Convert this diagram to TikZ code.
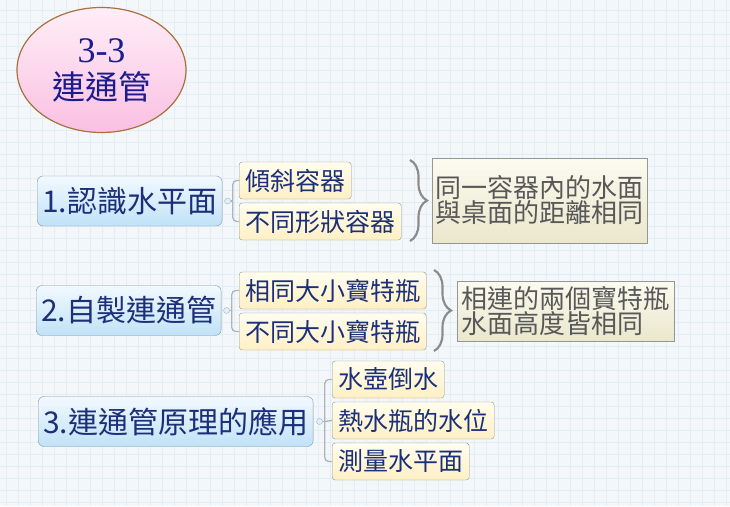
\documentclass[tikz,border=0pt]{standalone}
\usepackage{fontspec}
\newfontfamily\cjk{Noto Sans CJK TC}
\newfontfamily\numfont{Liberation Serif}
\usepackage{tikz}
\usetikzlibrary{shapes.geometric,positioning,decorations.pathreplacing}

\definecolor{paper}{RGB}{244,247,249}
\definecolor{gridblue}{RGB}{226,238,246}
\definecolor{titleline}{RGB}{170,112,62}
\definecolor{titletop}{RGB}{255,238,247}
\definecolor{titlebot}{RGB}{249,192,226}
\definecolor{titleblue}{RGB}{28,28,140}
\definecolor{topicline}{RGB}{132,150,166}
\definecolor{topictop}{RGB}{242,249,255}
\definecolor{topicbot}{RGB}{192,226,247}
\definecolor{topicblue}{RGB}{28,48,122}
\definecolor{leafline}{RGB}{150,150,150}
\definecolor{leaftop}{RGB}{255,253,238}
\definecolor{leafbot}{RGB}{255,240,196}
\definecolor{notetop}{RGB}{251,251,240}
\definecolor{notebot}{RGB}{234,231,204}
\definecolor{notegray}{RGB}{88,88,88}
\definecolor{branchgray}{RGB}{172,180,190}

\begin{document}
\begin{tikzpicture}[x=1pt,y=-1pt,
  title/.style={ellipse,draw=titleline,line width=1.2pt,top color=titletop,bottom color=titlebot,
    minimum width=169pt,minimum height=125pt,inner sep=0pt,align=center,text=titleblue,
    font=\cjk\fontsize{33}{37}\selectfont},
  topic/.style={draw=topicline,rounded corners=6pt,top color=topictop,bottom color=topicbot,
    text=topicblue,font=\cjk\fontsize{30}{32}\selectfont,minimum height=50pt,inner xsep=5pt,anchor=west},
  leaf/.style={draw=leafline,rounded corners=3pt,top color=leaftop,bottom color=leafbot,
    text=topicblue,font=\cjk\fontsize{25}{27}\selectfont,minimum height=37pt,inner xsep=6pt,anchor=west},
  note/.style={draw=leafline,top color=notetop,bottom color=notebot,text=notegray,align=left,
    font=\cjk\fontsize{26}{25}\selectfont,inner xsep=3pt},
  dot/.style={circle,inner sep=0pt,minimum size=6pt,fill=topictop!60!topicbot,draw=branchgray},
  branch/.style={draw=branchgray,line width=1.3pt,rounded corners=4pt},
  curly/.style={decorate,decoration={brace,amplitude=17pt},draw=gray!90,line width=2.2pt}]
  % Paper with grid
  \useasboundingbox (0,0) rectangle (730,506);
  \fill[paper] (0,0) rectangle (730,506);
  \foreach \gx in {6,18,...,726} \draw[gridblue,line width=0.6pt] (\gx,0) -- (\gx,506);
  \foreach \gy in {10,22,...,502} \draw[gridblue,line width=0.6pt] (0,\gy) -- (730,\gy);
  % Central topic
  \node[title] (title) at (101.5,70) {{\numfont\fontsize{36}{37}\selectfont 3-3}\\連通管};
  % Topic 1
  \node[topic] (t1) at (37,201) {1.認識水平面};
  \node[dot,right=2pt of t1] (d1) {};
  \node[leaf] (l11) at (239,180.5) {傾斜容器};
  \node[leaf] (l12) at (239,221.5) {不同形狀容器};
  \draw[branch] (d1.east) -- ++(2,0) coordinate (j1);
  \draw[branch] (j1) |- (l11.west);
  \draw[branch] (j1) |- (l12.west);
  \draw[curly] (410,160) -- (410,241);
  \node[note,minimum width=215pt,minimum height=85pt] (n1) at (539.5,200.5) {同一容器內的水面\\與桌面的距離相同};
  % Topic 2
  \node[topic] (t2) at (36,310.5) {2.自製連通管};
  \node[dot,right=2pt of t2] (d2) {};
  \node[leaf] (l21) at (239,290.5) {相同大小寶特瓶};
  \node[leaf] (l22) at (239,331.5) {不同大小寶特瓶};
  \draw[branch] (d2.east) -- ++(2,0) coordinate (j2);
  \draw[branch] (j2) |- (l21.west);
  \draw[branch] (j2) |- (l22.west);
  \draw[curly] (434,270) -- (434,351);
  \node[note,minimum width=217pt,minimum height=60pt] (n2) at (565.5,311) {相連的兩個寶特瓶\\水面高度皆相同};
  % Topic 3
  \node[topic] (t3) at (38,421.5) {3.連通管原理的應用};
  \node[dot,right=3pt of t3] (d3) {};
  \node[leaf] (l31) at (332,379.5) {水壺倒水};
  \node[leaf] (l32) at (332,420.5) {熱水瓶的水位};
  \node[leaf] (l33) at (332,461.5) {測量水平面};
  \draw[branch] (d3.east) -- ++(2,0) coordinate (j3);
  \draw[branch] (j3) |- (l31.west);
  \draw[branch] (j3) -- (l32.west);
  \draw[branch] (j3) |- (l33.west);
\end{tikzpicture}
\end{document}
